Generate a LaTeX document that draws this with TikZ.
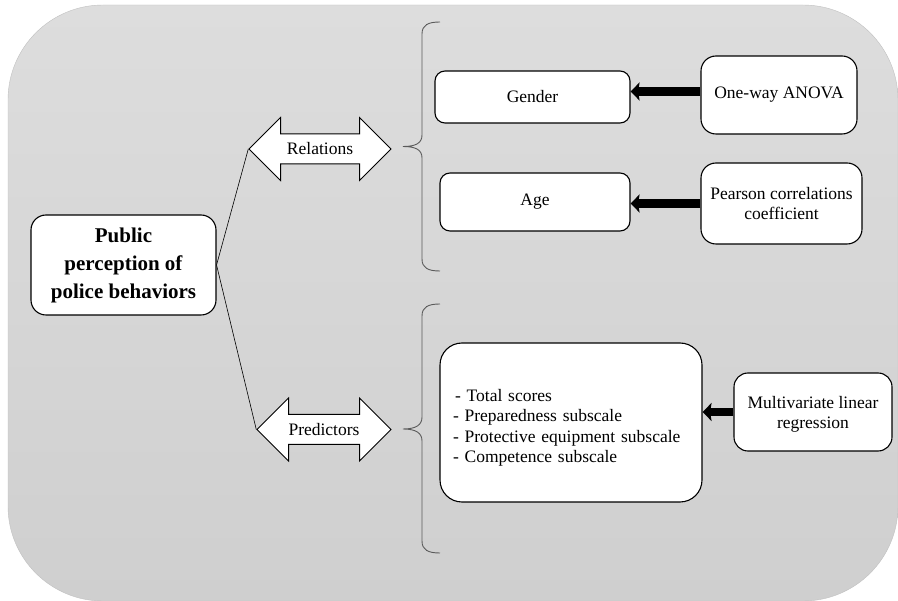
\documentclass[tikz,border=0pt]{standalone}
\usepackage{fontspec}
\setmainfont{Liberation Serif}
\usetikzlibrary{shapes.arrows, arrows.meta, positioning}
\definecolor{panelgraytop}{RGB}{221,221,221}
\definecolor{panelgraybottom}{RGB}{207,207,207}
\definecolor{panelrim}{RGB}{192,192,192}
\definecolor{bracegray}{RGB}{90,90,90}

\begin{document}
\begin{tikzpicture}[
    x=1pt, y=-1pt,
    box/.style={rectangle, draw=black, fill=white, line width=1.1pt, rounded corners=10pt, align=center, font=\fontsize{17.5}{20.5}\selectfont},
    dblarrow/.style={double arrow, draw=black, fill=white, line width=1pt, double arrow head extend=16.5pt, minimum width=62pt, text height=12pt, text depth=0pt, inner ysep=8.5pt, font=\fontsize{17.5}{20.5}\selectfont},
    thinline/.style={line width=0.6pt},
    bigarrow/.style={-{Stealth[length=9pt, width=18pt, inset=1.5pt]}, line width=8.5pt},
    bracepath/.style={draw=bracegray, line width=0.9pt}
]
    \useasboundingbox (0,0) rectangle (898,601);

    % Background panel
    \path[draw=panelrim, top color=panelgraytop, bottom color=panelgraybottom, rounded corners=95pt] (8,5) rectangle (898,601);

    % Main topic
    \node[box, font=\bfseries\fontsize{21}{28}\selectfont, minimum width=185pt, minimum height=100pt, rounded corners=15pt] (main) at (123.5,265) {Public\\perception of\\police behaviors};

    % Relations / Predictors
    \node[dblarrow, minimum height=142pt] (relations) at (320,149) {Relations};
    \node[dblarrow, minimum height=134pt] (predictors) at (324,429.5) {Predictors};

    % Relations branch
    \node[box, minimum width=195pt, minimum height=52pt] (gender) at (532.5,97) {Gender};
    \node[box, minimum width=190pt, minimum height=58pt] (age) at (535,202) {Age};
    \node[box, minimum width=156pt, minimum height=78pt, rounded corners=15pt] (anova) at (779,95) {One-way ANOVA};
    \node[box, minimum width=161pt, minimum height=81pt, rounded corners=15pt] (pearson) at (781.5,203.5) {Pearson correlations\\coefficient};

    % Predictors branch
    \node[box, text width=236pt, inner xsep=13pt, minimum height=159pt, align=left, rounded corners=22pt] (scores) at (571,422.5) {\rule{0pt}{23pt}\hspace{2pt}- Total scores\\- Preparedness subscale\\- Protective equipment subscale\\- Competence subscale};
    \node[box, minimum width=158pt, minimum height=78pt, rounded corners=14pt] (mlr) at (813,412) {\rule{0pt}{17pt}Multivariate linear\\regression};

    % Lines
    \draw[thinline] (main.east) -- (relations.west);
    \draw[thinline] (main.east) -- (predictors.west);

    % Arrows
    \draw[bigarrow] ([yshift=3.5pt]anova.west) -- ([yshift=3.5pt]anova.west -| gender.east);
    \draw[bigarrow] (pearson.west) -- (pearson.west -| age.east);
    \draw[bigarrow] (mlr.west) -- (mlr.west -| scores.east);

    % Braces
    \draw[bracepath] (440,22) .. controls (428,22) and (422,25) .. (422,34) -- (422,135) .. controls (422,143) and (416,146.5) .. (403,146.5) .. controls (416,146.5) and (422,150) .. (422,158) -- (422,259) .. controls (422,268) and (428,271) .. (440,271);
    \draw[bracepath] (440,304) .. controls (428,304) and (422,307) .. (422,316) -- (422,417) .. controls (422,425) and (416,429) .. (403,429) .. controls (416,429) and (422,433) .. (422,441) -- (422,541) .. controls (422,550) and (428,553) .. (440,553);
\end{tikzpicture}
\end{document}
